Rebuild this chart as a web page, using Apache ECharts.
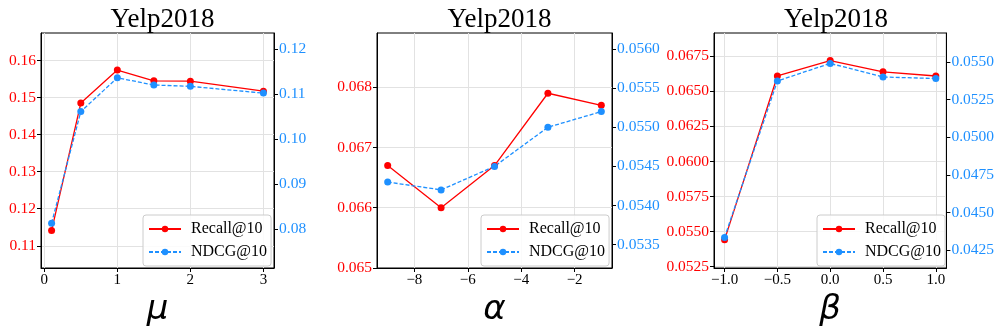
<!DOCTYPE html>
<html>
<head>
<meta charset="utf-8">
<script src="https://cdn.jsdelivr.net/npm/echarts@6/dist/echarts.min.js"></script>
<style>
  html, body { margin: 0; padding: 0; background: #fff; }
  #chart { width: 997px; height: 332px; }
</style>
</head>
<body>
<div id="chart"></div>
<script>
// values
const muX = [0.1, 0.5, 1, 1.5, 2, 3];
const muRecall = [0.1141, 0.1485, 0.1574, 0.1545, 0.1544, 0.1517];
const muNdcg = [0.0813, 0.1061, 0.1136, 0.1120, 0.1117, 0.1102];

const alphaX = [-9, -7, -5, -3, -1];
const alphaRecall = [0.0667, 0.0660, 0.0667, 0.0679, 0.0677];
const alphaNdcg = [0.0543, 0.0542, 0.0545, 0.0550, 0.0552];

const betaX = [-1, -0.5, 0, 0.5, 1];
const betaRecall = [0.0544, 0.0661, 0.0672, 0.0664, 0.0661];
const betaNdcg = [0.04336, 0.05374, 0.0549, 0.0540, 0.0539];

// tick labels
const muTicks = [0, 1, 2, 3];
const muRecallTicks = [0.11, 0.12, 0.13, 0.14, 0.15, 0.16];
const muNdcgTicks = [0.08, 0.09, 0.10, 0.11, 0.12];
const alphaTicks = [-8, -6, -4, -2];
const alphaRecallTicks = [0.065, 0.066, 0.067, 0.068];
const alphaNdcgTicks = [0.0535, 0.0540, 0.0545, 0.0550, 0.0555, 0.0560];
const betaTicks = [-1, -0.5, 0, 0.5, 1];
const betaRecallTicks = [0.0525, 0.0550, 0.0575, 0.0600, 0.0625, 0.0650, 0.0675];
const betaNdcgTicks = [0.0425, 0.0450, 0.0475, 0.0500, 0.0525, 0.0550];

const titles = ["Yelp2018", "Yelp2018", "Yelp2018"];
const xNames = ["\u03bc", "\u03b1", "\u03b2"];
const seriesNames = ["Recall@10", "NDCG@10"];

const RED = "#ff0000";
const BLUE = "#1e90ff";
const SERIF = "Liberation Serif";

const panels = [
  { left: 41, width: 233, x: muX, rec: muRecall, ndcg: muNdcg,
    xr: [-0.045, 3.145], yr1: [0.104, 0.1674], yr2: [0.07133, 0.12356],
    xt: muTicks, t1: muRecallTicks, t2: muNdcgTicks, xd: 0, d1: 2, d2: 2 },
  { left: 377, width: 235, x: alphaX, rec: alphaRecall, ndcg: alphaNdcg,
    xr: [-9.4, -0.6], yr1: [0.065, 0.0689], yr2: [0.053202, 0.056204],
    xt: alphaTicks, t1: alphaRecallTicks, t2: alphaNdcgTicks, xd: 0, d1: 3, d2: 4 },
  { left: 714, width: 234, x: betaX, rec: betaRecall, ndcg: betaNdcg,
    xr: [-1.1, 1.1], yr1: [0.05239, 0.06917], yr2: [0.04133, 0.05692],
    xt: betaTicks, t1: betaRecallTicks, t2: betaNdcgTicks, xd: 1, d1: 4, d2: 4 }
];

function fmt(d) {
  return function (v) { return (+v).toFixed(d).replace("-", "\u2212"); };
}

const myChart = echarts.init(document.getElementById("chart"), null, { renderer: "canvas" });

const grid = [], xAxis = [], yAxis = [], series = [], title = [], legend = [];

panels.forEach(function (p, i) {
  grid.push({
    left: p.left, top: 33, width: p.width, height: 235,
    show: true, borderColor: "#000", borderWidth: 1, backgroundColor: "transparent"
  });
  title.push({
    text: titles[i],
    left: p.left + p.width / 2, top: 1, textAlign: "center",
    textStyle: { fontFamily: SERIF, fontSize: 27, fontWeight: "normal", color: "#000" }
  });
  xAxis.push({
    type: "value", gridIndex: i, min: p.xr[0], max: p.xr[1],
    name: xNames[i], nameLocation: "middle", nameGap: 15,
    nameTextStyle: { fontFamily: "DejaVu Sans", fontStyle: "italic", fontSize: 34, color: "#000" },
    axisLine: { show: true, onZero: false, lineStyle: { color: "#000" } },
    axisTick: { show: true, length: 4, customValues: p.xt, lineStyle: { color: "#000" } },
    axisLabel: { customValues: p.xt, formatter: fmt(p.xd), fontFamily: SERIF, fontSize: 15, color: "#000", margin: 5 },
    splitLine: { show: true, lineStyle: { color: "#e2e2e2" } }
  });
  yAxis.push({
    type: "value", gridIndex: i, position: "left", min: p.yr1[0], max: p.yr1[1],
    axisLine: { show: true, onZero: false, lineStyle: { color: "#000" } },
    axisTick: { show: true, length: 4, customValues: p.t1, lineStyle: { color: "#000" } },
    axisLabel: { customValues: p.t1, formatter: fmt(p.d1), fontFamily: SERIF, fontSize: 15.5, color: RED, margin: 5 },
    splitLine: { show: true, lineStyle: { color: "#e2e2e2" } }
  });
  yAxis.push({
    type: "value", gridIndex: i, position: "right", min: p.yr2[0], max: p.yr2[1],
    axisLine: { show: true, onZero: false, lineStyle: { color: "#000" } },
    axisTick: { show: true, length: 4, customValues: p.t2, lineStyle: { color: "#000" } },
    axisLabel: { customValues: p.t2, formatter: fmt(p.d2), fontFamily: SERIF, fontSize: 15.5, color: BLUE, margin: 5 },
    splitLine: { show: false }
  });
  series.push({
    name: seriesNames[0], type: "line", xAxisIndex: i, yAxisIndex: i * 2,
    data: p.x.map(function (x, k) { return [x, p.rec[k]]; }),
    symbol: "circle", symbolSize: 7, color: RED,
    lineStyle: { width: 1.3, color: RED }, itemStyle: { color: RED }
  });
  series.push({
    name: seriesNames[1], type: "line", xAxisIndex: i, yAxisIndex: i * 2 + 1,
    data: p.x.map(function (x, k) { return [x, p.ndcg[k]]; }),
    symbol: "circle", symbolSize: 7, color: BLUE,
    lineStyle: { width: 1.3, color: BLUE, type: [4, 2] }, itemStyle: { color: BLUE }
  });
  legend.push({
    data: seriesNames, orient: "vertical",
    left: p.left + p.width - 131, top: 215,
    padding: [6, 4, 6, 5], itemGap: 7, itemWidth: 32, itemHeight: 8,
    backgroundColor: "rgba(255,255,255,0.85)", borderColor: "#cccccc", borderWidth: 1, borderRadius: 3,
    textStyle: { fontFamily: SERIF, fontSize: 16, color: "#000", padding: [0, 0, 0, 5] }
  });
});

myChart.setOption({
  animation: false,
  backgroundColor: "#fff",
  title: title,
  legend: legend,
  grid: grid,
  xAxis: xAxis,
  yAxis: yAxis,
  series: series
});
</script>
</body>
</html>
